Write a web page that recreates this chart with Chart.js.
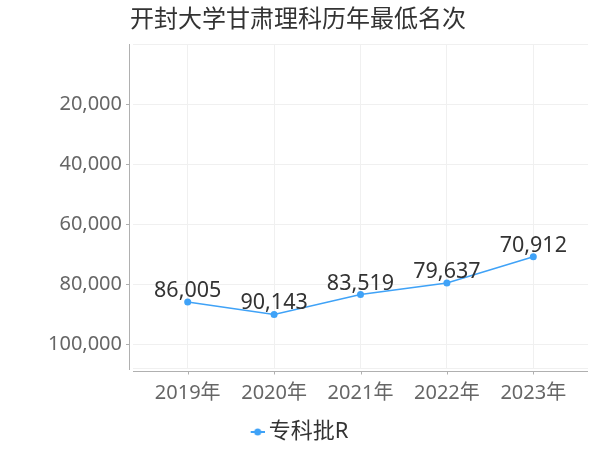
<!DOCTYPE html>
<html>
<head>
<meta charset="utf-8">
<script src="https://cdn.jsdelivr.net/npm/chart.js@4/dist/chart.umd.min.js"></script>
<style>
  html, body { margin: 0; padding: 0; background: #fff; }
  #wrap { width: 600px; height: 450px; }
</style>
</head>
<body>
<div id="wrap"><canvas id="c" width="600" height="450"></canvas></div>
<script>
const chartTitle = '开封大学甘肃理科历年最低名次';
const years = ['2019年', '2020年', '2021年', '2022年', '2023年'];
const seriesName = '专科批R';
const minRanks = [86005, 90143, 83519, 79637, 70912];
const yTicks = [20000, 40000, 60000, 80000, 100000];

const FONT = '"Noto Sans", "Noto Sans CJK SC", sans-serif';
const BLUE = '#3fa2f7';
const AXIS = '#b0b0b0';
const GRID = '#f0f0f0';

// legend marker: short line with a dot, drawn on the right of a wider image
function legendMarker() {
  const c = document.createElement('canvas');
  c.width = 32; c.height = 10;
  const g = c.getContext('2d');
  g.strokeStyle = BLUE; g.lineWidth = 2;
  g.beginPath(); g.moveTo(18, 5); g.lineTo(32, 5); g.stroke();
  g.fillStyle = BLUE;
  g.beginPath(); g.arc(25, 5, 3.5, 0, Math.PI * 2); g.fill();
  return c;
}

const fmt = v => v.toLocaleString('en-US');

const titlePlugin = {
  id: 'titleLeft',
  afterDraw(chart) {
    const ctx = chart.ctx;
    ctx.save();
    ctx.font = '24px ' + FONT;
    ctx.fillStyle = '#333';
    ctx.textBaseline = 'middle';
    ctx.textAlign = 'left';
    ctx.fillText(chartTitle, chart.chartArea.left - 3, 20);
    ctx.restore();
  }
};

// axis lines sit a few px away from the plot box, with short ticks
const axisPlugin = {
  id: 'axisLines',
  afterDraw(chart) {
    const {ctx, chartArea: a, scales: {x, y}} = chart;
    ctx.save();
    ctx.strokeStyle = AXIS;
    ctx.lineWidth = 1;
    ctx.beginPath();
    ctx.moveTo(a.left - 3.5, a.top);
    ctx.lineTo(a.left - 3.5, a.bottom + 2);
    ctx.moveTo(a.left, a.bottom + 3.5);
    ctx.lineTo(a.right, a.bottom + 3.5);
    yTicks.forEach(v => {
      const py = Math.round(y.getPixelForValue(v)) + 0.5;
      ctx.moveTo(a.left - 7, py);
      ctx.lineTo(a.left - 3.5, py);
    });
    years.forEach((_, i) => {
      const px = Math.round(x.getPixelForValue(i)) + 0.5;
      ctx.moveTo(px, a.bottom + 3.5);
      ctx.lineTo(px, a.bottom + 6.5);
    });
    ctx.stroke();
    ctx.restore();
  }
};

const valueLabels = {
  id: 'valueLabels',
  afterDatasetsDraw(chart) {
    const ctx = chart.ctx;
    const meta = chart.getDatasetMeta(0);
    ctx.save();
    ctx.font = '21.5px ' + FONT;
    ctx.fillStyle = '#333';
    ctx.textAlign = 'center';
    ctx.textBaseline = 'alphabetic';
    meta.data.forEach((pt, i) => {
      ctx.fillText(fmt(minRanks[i]), pt.x, pt.y - 5);
    });
    ctx.restore();
  }
};

new Chart(document.getElementById('c'), {
  type: 'line',
  data: {
    datasets: [{
      label: seriesName,
      data: minRanks.map((v, i) => ({x: i, y: v})),
      borderColor: BLUE,
      backgroundColor: BLUE,
      borderWidth: 1.5,
      pointRadius: 3.5,
      pointHoverRadius: 3.5,
      pointBorderWidth: 0,
      tension: 0
    }]
  },
  options: {
    responsive: false,
    animation: false,
    layout: { padding: { top: 44, right: 12, left: 0, bottom: -3 } },
    scales: {
      x: {
        type: 'linear',
        min: -0.633,
        max: years.length - 1 + 0.633,
        afterBuildTicks: s => { s.ticks = years.map((_, i) => ({value: i})); },
        afterFit: s => { s.height = 43; },
        border: { display: false },
        grid: { color: GRID, drawTicks: false },
        ticks: {
          padding: 13,
          color: '#666',
          font: { family: FONT, size: 20 },
          callback: v => years[v]
        }
      },
      y: {
        reverse: true,
        min: 0,
        max: 108000,
        afterBuildTicks: s => { s.ticks = [0, ...yTicks, 108000].map(v => ({value: v})); },
        afterFit: s => { s.width = 133; },
        border: { display: false },
        grid: { color: GRID, drawTicks: false },
        ticks: {
          padding: 11,
          color: '#666',
          font: { family: FONT, size: 20 },
          callback: v => yTicks.includes(v) ? fmt(v) : ''
        }
      }
    },
    plugins: {
      tooltip: { enabled: false },
      legend: {
        position: 'bottom',
        labels: {
          usePointStyle: true,
          pointStyle: legendMarker(),
          boxWidth: 18,
          color: '#333',
          font: { family: FONT, size: 22 },
          padding: 10
        }
      }
    }
  },
  plugins: [titlePlugin, axisPlugin, valueLabels]
});
</script>
</body>
</html>
